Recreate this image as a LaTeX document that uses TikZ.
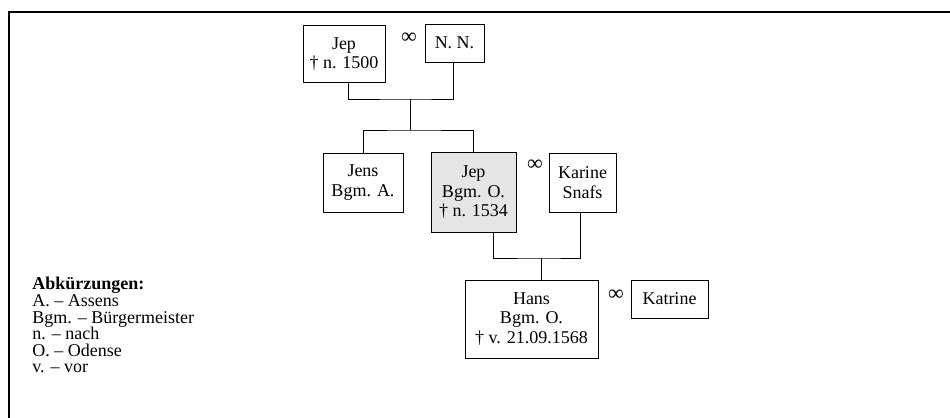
\documentclass[tikz,border=0pt]{standalone}
\usepackage{fontspec}
\setmainfont{Liberation Serif}
\usetikzlibrary{positioning, calc}
\definecolor{boxgray}{HTML}{E6E6E6}
\tikzset{
  pbox/.style={draw=black, line width=0.5pt, align=center, inner sep=0pt,
               fill=white, font=\fontsize{9}{9.8}\selectfont},
  hlbox/.style={pbox, fill=boxgray},
  link/.style={draw=black, line width=0.5pt},
  marr/.style={font=\fontsize{11}{11}\selectfont, inner sep=0pt},
  legend/.style={align=left, inner sep=0pt, font=\fontsize{9}{8.3}\selectfont},
  frame/.style={draw=black, line width=1pt},
}

\begin{document}
\begin{tikzpicture}[x=0.5pt, y=-0.5pt]
  \useasboundingbox (0,0) rectangle (950,418);
  % frame
  \draw[frame] (8.5,418) -- (8.5,12) -- (950,12);
  % first generation
  \node[pbox, minimum width=41pt, minimum height=28.5pt] (jepa) at (344,54) {Jep\\† n. 1500};
  \node[pbox, minimum width=29.5pt, minimum height=19pt] (nn) at (454.5,43) {N. N.};
  \node[marr] (ma) at (409,38) {∞};
  % second generation
  \node[pbox, minimum width=40pt, minimum height=29.5pt] (jens) at (363,182.5) {Jens\\Bgm. A.};
  \node[hlbox, minimum width=42.5pt, minimum height=40pt] (jepb) at (473.5,192.5) {Jep\\Bgm. O.\\† n. 1534};
  \node[pbox, minimum width=33.5pt, minimum height=29.5pt] (karine) at (582.5,182.5) {Karine\\Snafs};
  \node[marr] (mb) at (535,165) {∞};
  % third generation
  \node[pbox, minimum width=66.5pt, minimum height=39pt] (hans) at (531.5,319) {Hans\\Bgm. O.\\† v. 21.09.1568};
  \node[pbox, minimum width=38.5pt, minimum height=19pt] (katrine) at (669.5,299) {Katrine};
  \node[marr] (mc) at (616,295) {∞};
  % links
  \coordinate (ua) at (410,99);
  \coordinate (da) at (410,130);
  \draw[link] ($(jepa.south)+(4,0)$) |- (ua) -| ($(nn.south)+(-1.5,0)$);
  \draw[link] (ua) -- (da);
  \draw[link] (jens.north) |- (da) -| (jepb.north);
  \coordinate (ub) at (541,258);
  \draw[link] ($(jepb.south)+(20,0)$) |- (ub) -| ($(karine.south)+(-2.5,0)$);
  \draw[link] (ub) -- (ub |- hans.north);
  % legend
  \node[legend, anchor=north west] (abk) at (32,277)
    {\textbf{Abkürzungen:}\\A. – Assens\\Bgm. – Bürgermeister\\n. – nach\\O. – Odense\\v. – vor};
\end{tikzpicture}
\end{document}
